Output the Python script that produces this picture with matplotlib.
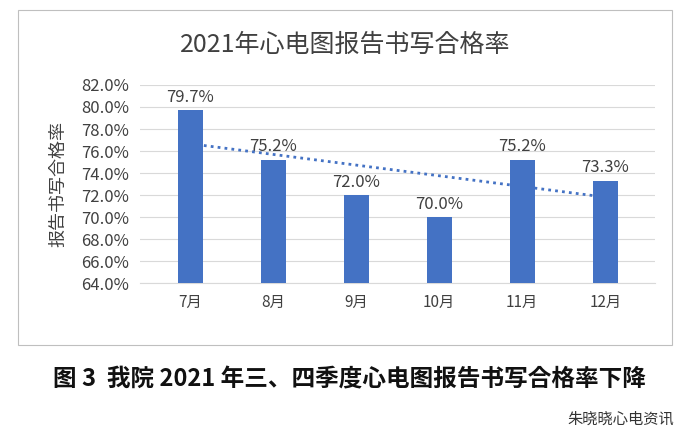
import matplotlib
matplotlib.use("Agg")
import matplotlib.pyplot as plt
from matplotlib import font_manager as fm
from matplotlib.patches import Rectangle
import numpy as np

months = ["7月", "8月", "9月", "10月", "11月", "12月"]
rates = [79.7, 75.2, 72.0, 70.0, 75.2, 73.3]
yticks = [64, 66, 68, 70, 72, 74, 76, 78, 80, 82]

names = sorted({f.name for f in fm.fontManager.ttflist if "CJK" in f.name})
cjk = None
for pref in ["Noto Sans CJK SC", "Noto Sans CJK JP", "Noto Sans CJK TC", "Noto Sans CJK KR"]:
    if pref in names:
        cjk = pref
        break
if cjk is None and names:
    cjk = names[0]
if cjk is None:
    for f in fm.findSystemFonts():
        if "CJK" in f:
            fm.fontManager.addfont(f)
    names = sorted({f.name for f in fm.fontManager.ttflist if "CJK" in f.name})
    cjk = names[0] if names else "DejaVu Sans"
plt.rcParams["font.family"] = "sans-serif"
plt.rcParams["font.sans-serif"] = [cjk, "DejaVu Sans"]

fig = plt.figure(figsize=(6.91, 4.45), dpi=100)
fig.patches.append(Rectangle((0.026, 0.225), 0.947, 0.753, transform=fig.transFigure,
                             fill=False, edgecolor="#bfbfbf", lw=0.8))
ax = fig.add_axes([0.203, 0.364, 0.745, 0.445])
x = np.arange(len(months))
ax.bar(x, rates, width=0.3, color="#4472c4", zorder=3)
for xi, v in zip(x, rates):
    ax.text(xi, v + 0.4, f"{v:.1f}%", ha="center", va="bottom", fontsize=12, color="#404040")
k, b = np.polyfit(x, rates, 1)
ax.plot(x, k * x + b, ls=(0, (1, 1.5)), color="#4472c4", lw=2, zorder=4)
ax.set_ylim(64, 82)
ax.set_xlim(-0.6, 5.6)
ax.set_yticks(yticks)
ax.set_yticklabels([f"{t:.1f}%" for t in yticks], fontsize=12, color="#404040")
ax.set_xticks(x)
ax.set_xticklabels(months, fontsize=11, color="#404040")
ax.grid(axis="y", color="#d9d9d9", lw=0.8, zorder=0)
for s in ["top", "right", "left"]:
    ax.spines[s].set_visible(False)
ax.spines["bottom"].set_color("#d9d9d9")
ax.tick_params(length=0, pad=8)
ax.set_ylabel("报告书写合格率", fontsize=13, color="#404040", labelpad=10)
fig.text(0.5, 0.9, "2021年心电图报告书写合格率", ha="center", va="center",
         fontsize=18, color="#404040")
fig.text(0.505, 0.148, "图 3  我院 2021 年三、四季度心电图报告书写合格率下降", ha="center",
         va="center", fontsize=17, fontweight="bold", color="#111111")
fig.text(0.975, 0.058, "朱晓晓心电资讯", ha="right", va="center", fontsize=11, color="#333333")
fig.savefig("out.png", dpi=100)
